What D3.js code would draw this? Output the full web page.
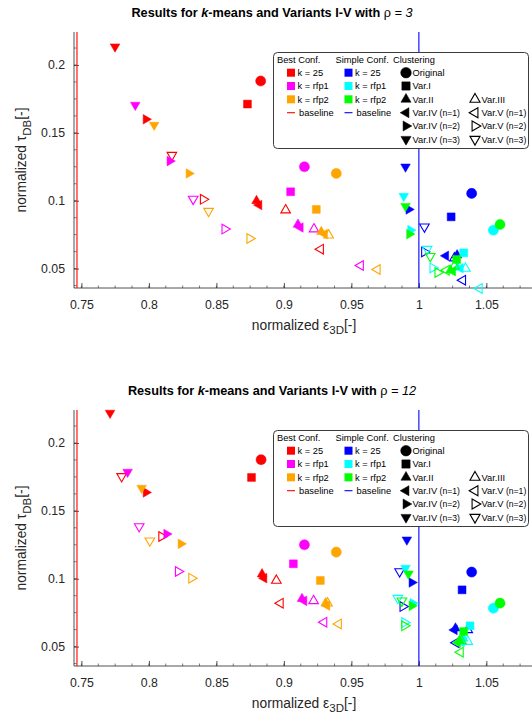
<!DOCTYPE html>
<html>
<head>
<meta charset="utf-8">
<script src="https://cdn.jsdelivr.net/npm/d3@7"></script>
<style>
  html, body { margin: 0; padding: 0; background: #fff; }
  svg { display: block; font-family: "Liberation Sans", Arial, Helvetica, sans-serif; }
</style>
</head>
<body>
<svg id="chart" width="532" height="723"></svg>
<script>
// Clustering variants (marker order used in every data array below)
const markerKeys = ["Original", "Var.I", "Var.II", "Var.III", "Var.IV (n=1)", "Var.V (n=1)",
                    "Var.IV (n=2)", "Var.V (n=2)", "Var.IV (n=3)", "Var.V (n=3)"];

// Configurations (series)
const seriesNames = ["Best k = 25", "Best k = rfp1", "Best k = rfp2",
                     "Simple k = 25", "Simple k = rfp1", "Simple k = rfp2"];
const seriesColors = ["#ff0000", "#ff00ff", "#ffa500", "#0000ff", "#00ffff", "#00ff00"];

// Axis ticks
const xTicks = [0.75, 0.8, 0.85, 0.9, 0.95, 1, 1.05];
const yTicks = [0.05, 0.1, 0.15, 0.2];
const xTickLabels = ["0.75", "0.8", "0.85", "0.9", "0.95", "1", "1.05"];
const yTickLabels = ["0.05", "0.1", "0.15", "0.2"];

// Baselines (normalized epsilon_3D)
const baselineBest = 0.7467;
const baselineSimple = 1.0;

// rho = 3 : normalized epsilon_3D (x) and tau_DB (y)
const rho3_best25_x   = [0.8828, 0.8730, 0.8797, 0.9013, 0.8816, 0.9272, 0.7978, 0.8402, 0.7749, 0.8170];
const rho3_best25_y   = [0.1882, 0.1712, 0.0999, 0.0931, 0.0968, 0.0643, 0.1600, 0.1010, 0.2135, 0.1336];
const rho3_bestR1_x   = [0.9152, 0.9050, 0.9104, 0.9223, 0.9122, 0.9568, 0.8155, 0.8562, 0.7899, 0.8328];
const rho3_bestR1_y   = [0.1250, 0.1066, 0.0825, 0.0791, 0.0803, 0.0523, 0.1292, 0.0791, 0.1705, 0.1012];
const rho3_bestR2_x   = [0.9388, 0.9240, 0.9277, 0.9331, 0.9302, 0.9692, 0.8296, 0.8747, 0.8039, 0.8442];
const rho3_bestR2_y   = [0.1201, 0.0936, 0.0771, 0.0746, 0.0754, 0.0493, 0.1201, 0.0722, 0.1558, 0.0923];
const rho3_simple25_x = [1.0391, 1.0239, 1.0283, 1.0263, 1.0200, 1.0325, 0.9925, 1.0041, 0.9901, 1.0041];
const rho3_simple25_y = [0.1054, 0.0881, 0.0599, 0.0577, 0.0594, 0.0414, 0.0936, 0.0623, 0.1250, 0.0808];
const rho3_simpleR1_x = [1.0552, 1.0332, 1.0288, 1.0345, 1.0308, 1.0448, 0.9938, 1.0103, 0.9888, 1.0061];
const rho3_simpleR1_y = [0.0783, 0.0616, 0.0508, 0.0501, 0.0503, 0.0353, 0.0783, 0.0505, 0.1034, 0.0643];
const rho3_simpleR2_x = [1.0601, 1.0280, 1.0234, 1.0263, 1.0251, 1.0204, 0.9930, 1.0140, 0.9901, 1.0084];
const rho3_simpleR2_y = [0.0825, 0.0567, 0.0488, 0.0518, 0.0481, 0.0488, 0.0754, 0.0471, 0.0960, 0.0591];

// rho = 12
const rho12_best25_x   = [0.8831, 0.8760, 0.8838, 0.8944, 0.8853, 0.8974, 0.7978, 0.8094, 0.7712, 0.7798];
const rho12_best25_y   = [0.1877, 0.1746, 0.1034, 0.0987, 0.1004, 0.0820, 0.1636, 0.1311, 0.2221, 0.1754];
const rho12_bestR1_x   = [0.9152, 0.9070, 0.9134, 0.9220, 0.9149, 0.9297, 0.8131, 0.8217, 0.7842, 0.7928];
const rho12_bestR1_y   = [0.1250, 0.1110, 0.0852, 0.0837, 0.0837, 0.0680, 0.1329, 0.1053, 0.1786, 0.1385];
const rho12_bestR2_x   = [0.9388, 0.9270, 0.9309, 0.9323, 0.9319, 0.9405, 0.8237, 0.8316, 0.7946, 0.8007];
const rho12_bestR2_y   = [0.1196, 0.0987, 0.0820, 0.0820, 0.0802, 0.0667, 0.1257, 0.1004, 0.1668, 0.1280];
const rho12_simple25_x = [1.0391, 1.0320, 1.0271, 1.0362, 1.0263, 1.0276, 0.9948, 0.9881, 0.9911, 0.9857];
const rho12_simple25_y = [0.1049, 0.0918, 0.0635, 0.0623, 0.0623, 0.0529, 0.0972, 0.0795, 0.1287, 0.1053];
const rho12_simpleR1_x = [1.0552, 1.0379, 1.0330, 1.0362, 1.0315, 1.0313, 0.9955, 0.9894, 0.9901, 0.9844];
const rho12_simpleR1_y = [0.0783, 0.0653, 0.0559, 0.0537, 0.0544, 0.0537, 0.0820, 0.0677, 0.1078, 0.0857];
const rho12_simpleR2_x = [1.0601, 1.0332, 1.0300, 1.0315, 1.0288, 1.0308, 0.9948, 0.9894, 0.9923, 0.9874];
const rho12_simpleR2_y = [0.0820, 0.0611, 0.0544, 0.0541, 0.0529, 0.0459, 0.0800, 0.0653, 0.1036, 0.0837];

const panels = [
  { rho: "3", top: 0,
    xs: [rho3_best25_x, rho3_bestR1_x, rho3_bestR2_x, rho3_simple25_x, rho3_simpleR1_x, rho3_simpleR2_x],
    ys: [rho3_best25_y, rho3_bestR1_y, rho3_bestR2_y, rho3_simple25_y, rho3_simpleR1_y, rho3_simpleR2_y] },
  { rho: "12", top: 378,
    xs: [rho12_best25_x, rho12_bestR1_x, rho12_bestR2_x, rho12_simple25_x, rho12_simpleR1_x, rho12_simpleR2_x],
    ys: [rho12_best25_y, rho12_bestR1_y, rho12_bestR2_y, rho12_simple25_y, rho12_simpleR1_y, rho12_simpleR2_y] }
];

// Marker style per clustering variant: shape, rotation (deg), filled
const markerStyle = {
  "Original":     { type: "circle",   rot: 0,   fill: true },
  "Var.I":        { type: "square",   rot: 0,   fill: true },
  "Var.II":       { type: "triangle", rot: 0,   fill: true },
  "Var.III":      { type: "triangle", rot: 0,   fill: false },
  "Var.IV (n=1)": { type: "triangle", rot: -90, fill: true },
  "Var.V (n=1)":  { type: "triangle", rot: -90, fill: false },
  "Var.IV (n=2)": { type: "triangle", rot: 90,  fill: true },
  "Var.V (n=2)":  { type: "triangle", rot: 90,  fill: false },
  "Var.IV (n=3)": { type: "triangle", rot: 180, fill: true },
  "Var.V (n=3)":  { type: "triangle", rot: 180, fill: false }
};
const symbolPath = {
  circle:   d3.symbol().type(d3.symbolCircle).size(80)(),
  square:   d3.symbol().type(d3.symbolSquare).size(62)(),
  triangle: d3.symbol().type(d3.symbolTriangle).size(40)()
};

const axisColor = "#262626";
const svg = d3.select("#chart");

const x = d3.scaleLinear().domain([0.7445, 1.0838]).range([74, 532]);

function drawMarker(g, key, cx, cy, color, scale) {
  const st = markerStyle[key];
  const s = scale || 1;
  g.append("path")
    .attr("d", symbolPath[st.type])
    .attr("transform", `translate(${cx},${cy}) rotate(${st.rot}) scale(${s})`)
    .attr("fill", st.fill ? color : "none")
    .attr("stroke", color)
    .attr("stroke-width", st.fill ? 0.5 : 1.1 / s)
    .attr("stroke-linejoin", "miter");
}

function drawPanel(p) {
  const g = svg.append("g").attr("transform", `translate(0,${p.top})`);
  const y = d3.scaleLinear().domain([0.0357, 0.2243]).range([288, 32]);
  const [x0, x1] = x.range();
  const [yb, yt] = y.range();

  // Title
  const title = g.append("text")
    .attr("x", 272).attr("y", 17)
    .attr("text-anchor", "middle")
    .attr("font-size", 12.7).attr("font-weight", "bold").attr("fill", "#000");
  title.append("tspan").text("Results for ");
  title.append("tspan").attr("font-style", "italic").text("k");
  title.append("tspan").text("-means and Variants I-V with ");
  title.append("tspan").attr("font-weight", "normal").text("ρ");
  title.append("tspan").attr("font-weight", "normal").attr("font-style", "italic").text(" = " + p.rho);

  // Minor ticks
  const xMinor = d3.range(0.75, 1.0838, 0.0125).filter(v => v >= x.domain()[0]);
  const yMinor = d3.range(0.0375, 0.2243, 0.0125);
  g.append("g").selectAll("line").data(xMinor).join("line")
    .attr("x1", d => x(d)).attr("x2", d => x(d))
    .attr("y1", yb).attr("y2", yb - 2.5)
    .attr("stroke", axisColor).attr("stroke-width", 0.6);
  g.append("g").selectAll("line").data(yMinor).join("line")
    .attr("y1", d => y(d)).attr("y2", d => y(d))
    .attr("x1", x0).attr("x2", x0 + 2.5)
    .attr("stroke", axisColor).attr("stroke-width", 0.6);

  // Axes (ticks point inward)
  const xAxis = d3.axisBottom(x).tickValues(xTicks)
    .tickFormat((d, i) => xTickLabels[i]).tickSize(-5).tickPadding(12.5).tickSizeOuter(0);
  const gx = g.append("g").attr("transform", `translate(0,${yb})`).call(xAxis);
  const yAxis = d3.axisLeft(y).tickValues(yTicks)
    .tickFormat((d, i) => yTickLabels[i]).tickSize(-5).tickPadding(9).tickSizeOuter(0);
  const gy = g.append("g").attr("transform", `translate(${x0},0)`).call(yAxis);
  [gx, gy].forEach(a => {
    a.select(".domain").attr("stroke", axisColor).attr("stroke-width", 0.8);
    a.selectAll(".tick line").attr("stroke", axisColor).attr("stroke-width", 0.8);
    a.selectAll(".tick text").attr("fill", axisColor).attr("font-size", 12.3)
      .attr("font-family", "Liberation Sans, Arial, sans-serif");
  });
  gx.select(".domain").attr("d", `M${x0},0H${x1}`);
  gy.select(".domain").attr("d", `M0,${yb}V${yt}`);

  // Axis labels
  const xl = g.append("text").attr("x", 304).attr("y", 329.5)
    .attr("text-anchor", "middle").attr("font-size", 13.8).attr("fill", axisColor);
  xl.append("tspan").text("normalized ε");
  xl.append("tspan").attr("dy", 4.5).attr("font-size", 11.5).text("3D");
  xl.append("tspan").attr("dy", -4.5).text("[-]");

  const yl = g.append("text")
    .attr("transform", `translate(26,${(yb + yt) / 2}) rotate(-90)`)
    .attr("text-anchor", "middle").attr("font-size", 13.8).attr("fill", axisColor);
  yl.append("tspan").text("normalized τ");
  yl.append("tspan").attr("dy", 4.5).attr("font-size", 11.5).text("DB");
  yl.append("tspan").attr("dy", -4.5).text("[-]");

  // Baselines
  g.append("line").attr("x1", x(baselineBest)).attr("x2", x(baselineBest))
    .attr("y1", yb).attr("y2", yt).attr("stroke", "#ff0000").attr("stroke-width", 1.1);
  g.append("line").attr("x1", x(baselineSimple)).attr("x2", x(baselineSimple))
    .attr("y1", yb).attr("y2", yt).attr("stroke", "#0000ff").attr("stroke-width", 1.1);

  // Data markers
  const pts = g.append("g");
  seriesNames.forEach((name, si) => {
    markerKeys.forEach((key, mi) => {
      drawMarker(pts, key, x(p.xs[si][mi]), y(p.ys[si][mi]), seriesColors[si]);
    });
  });

  // Legend
  const lg = g.append("g");
  lg.append("rect").attr("x", 273.5).attr("y", 52.5).attr("width", 255).attr("height", 96)
    .attr("rx", 4).attr("fill", "#fff").attr("stroke", axisColor).attr("stroke-width", 0.9);
  const fs = 9.3;
  const rowY = [72.7, 86, 99.3, 112.7, 126, 139.3];
  const head = [["Best Conf.", 277], ["Simple Conf.", 335.5], ["Clustering", 393]];
  head.forEach(([t, hx]) => lg.append("text").attr("x", hx).attr("y", 63)
    .attr("font-size", fs).attr("fill", "#000").text(t));
  const confLabels = ["k = 25", "k = rfp1", "k = rfp2"];
  [[0, 287], [3, 344.5]].forEach(([off, sx]) => {
    confLabels.forEach((lab, i) => {
      lg.append("rect").attr("x", sx).attr("y", rowY[i] - 4).attr("width", 8).attr("height", 8)
        .attr("fill", seriesColors[off + i]);
      lg.append("text").attr("x", sx + 10.5).attr("y", rowY[i] + 3.4)
        .attr("font-size", fs).attr("fill", "#000").text(lab);
    });
    lg.append("line").attr("x1", sx).attr("x2", sx + 8).attr("y1", rowY[3]).attr("y2", rowY[3])
      .attr("stroke", off === 0 ? "#ff0000" : "#0000ff").attr("stroke-width", 1.1);
    lg.append("text").attr("x", sx + 12).attr("y", rowY[3] + 3.4)
      .attr("font-size", fs).attr("fill", "#000").text("baseline");
  });
  const clusterRows = [
    ["Original", 406, 0], ["Var.I", 406, 1], ["Var.II", 406, 2], ["Var.III", 475, 2],
    ["Var.IV (n=1)", 406, 3], ["Var.V (n=1)", 475, 3], ["Var.IV (n=2)", 406, 4],
    ["Var.V (n=2)", 475, 4], ["Var.IV (n=3)", 406, 5], ["Var.V (n=3)", 475, 5]
  ];
  clusterRows.forEach(([key, mx, r]) => {
    drawMarker(lg, key, mx, rowY[r], "#000", 1.05);
    const t = lg.append("text").attr("x", mx + 6.5).attr("y", rowY[r] + 3.4)
      .attr("font-size", fs).attr("fill", "#000");
    const m = key.match(/^(\S+)( \(n=\d\))?$/);
    t.append("tspan").text(m[1]);
    if (m[2]) t.append("tspan").attr("font-size", 8.6).text(m[2]);
  });
}

panels.forEach(drawPanel);
</script>
</body>
</html>
